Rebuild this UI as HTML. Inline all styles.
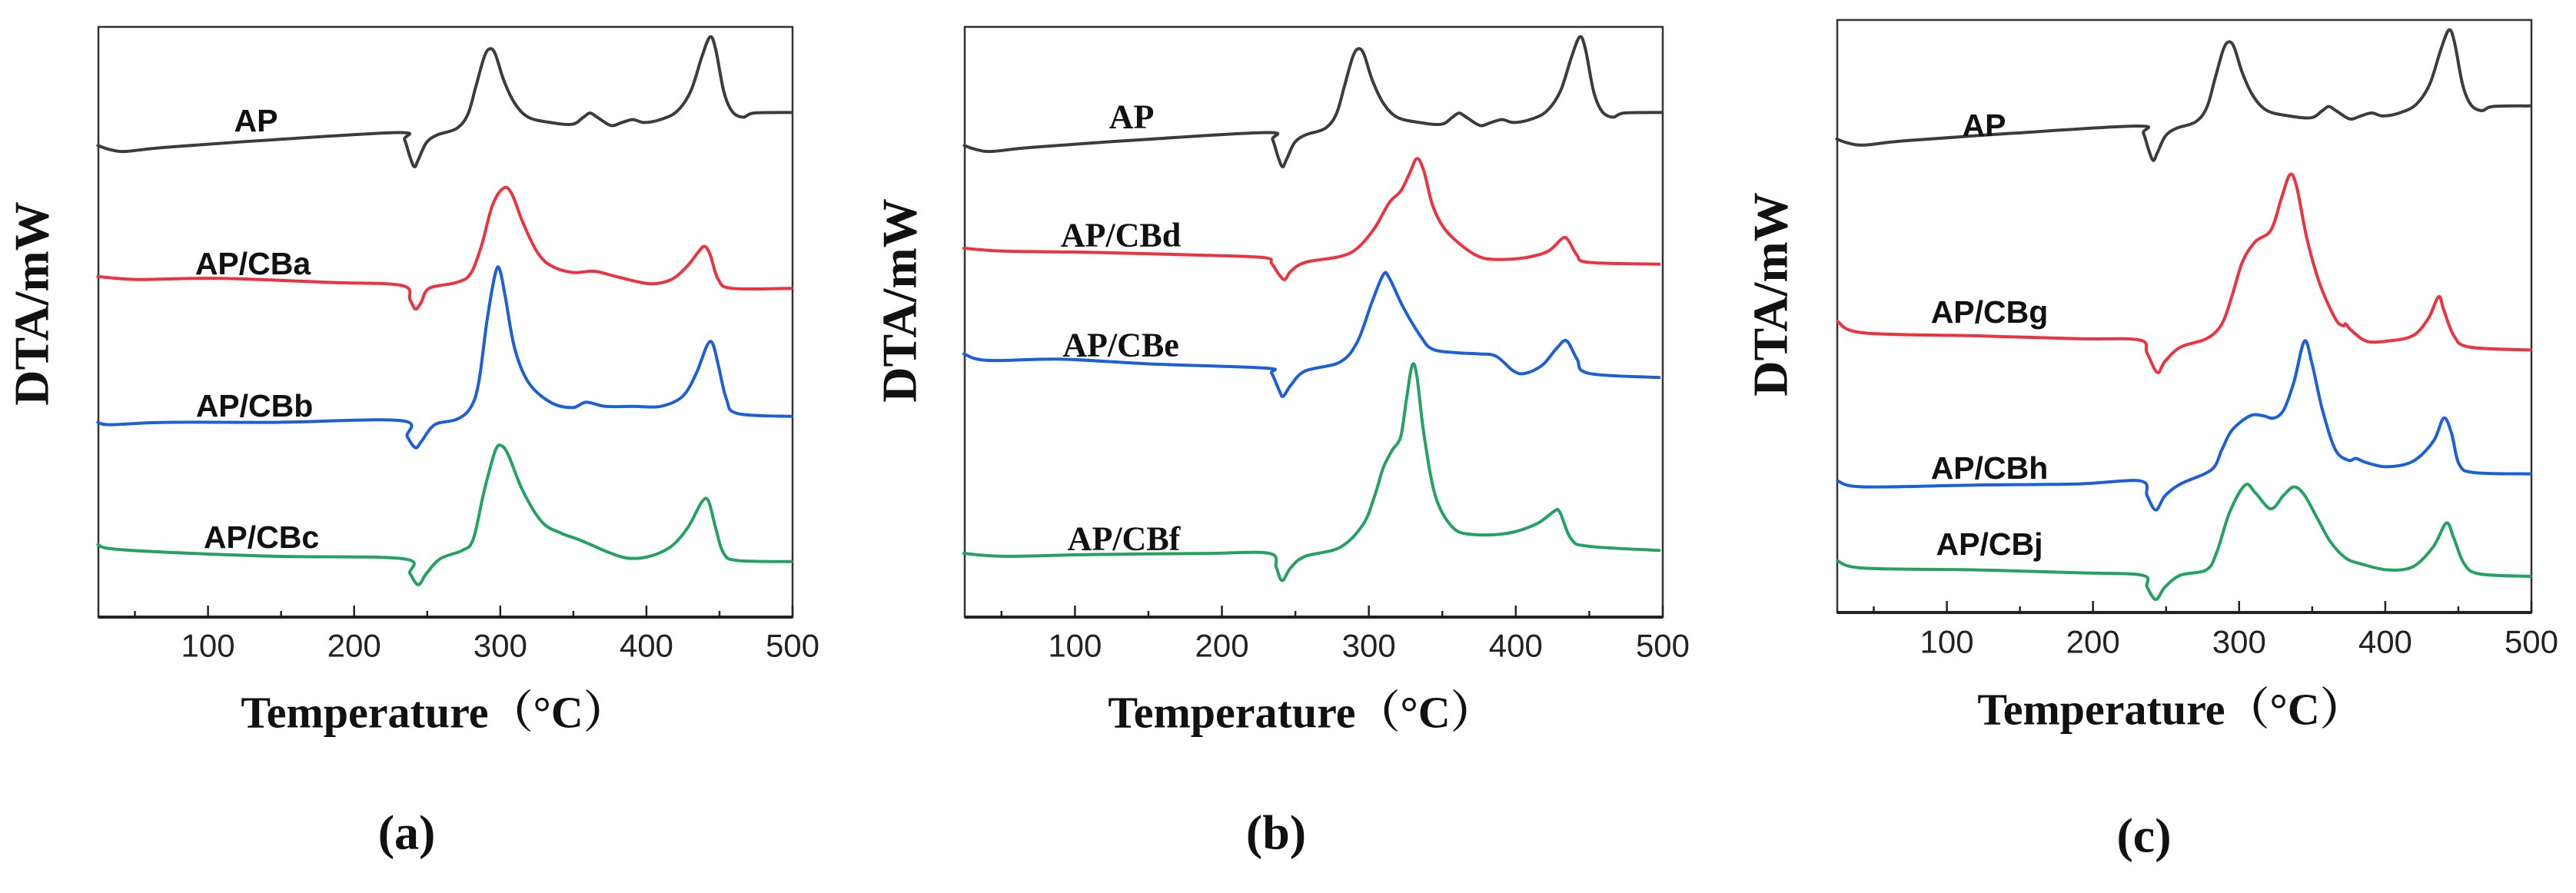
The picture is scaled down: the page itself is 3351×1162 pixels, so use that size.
<!DOCTYPE html>
<html><head><meta charset="utf-8"><style>
html,body{margin:0;padding:0;background:#fff;}
svg{display:block;}
.tick{font-family:"Liberation Sans",sans-serif;font-size:42px;fill:#222;}
.lblS{font-family:"Liberation Sans",sans-serif;font-weight:bold;font-size:41px;fill:#111;}
.lblT{font-family:"Liberation Serif",serif;font-weight:bold;font-size:44px;fill:#111;}
.ytitle{font-family:"Liberation Serif",serif;font-weight:bold;font-size:64px;fill:#111;}
.xtitle{font-family:"Liberation Serif","Noto Serif CJK SC",serif;font-weight:bold;font-size:58px;fill:#111;}
.plet{font-family:"Liberation Serif",serif;font-weight:bold;font-size:64px;fill:#111;}
</style></head><body>
<svg id="fig" width="3351" height="1162" viewBox="0 0 3351 1162" xmlns="http://www.w3.org/2000/svg"></svg>
<script>
// ---- shared tick data ----
const xMajorTicks = [100, 200, 300, 400, 500];
const xMinorTicks = [50, 150, 250, 350, 450];
const xTickLabels = ["100", "200", "300", "400", "500"];

// ---- AP (pure) curve, used in all panels ----
const apTemp = [24.7,33,44,70.6,146,230.7,234.5,238.2,241.2,243.9,249.5,257,270.2,277.8,283.4,289,292.8,296.6,302.3,309.8,319.2,334.3,349.3,356.9,361.4,366.3,375.7,383.2,390.8,398.3,409.6,420.9,430.3,437.9,443.5,447.3,452.9,458.6,466.1,473.6,499.2];
const apDTA = [79.9,79.2,78.9,79.6,80.9,82.1,80.9,78.0,76.3,77.5,80.4,81.7,82.8,85.2,90.0,94.9,96.3,95.4,91.0,87.1,84.7,83.8,83.5,84.7,85.4,84.7,83.3,83.8,84.3,83.8,84.3,85.7,89.1,94.9,98.3,96.3,89.1,85.7,84.7,85.4,85.5];

// ---- panel (a) ----
const cbaTemp = [24.7,51.8,108.3,183.6,232.6,238.2,242,245.8,251.4,270.2,279.7,287.2,294.7,302.3,307.9,315.4,324.9,334.3,349.3,364.4,379.5,402.1,417.1,428.4,436,439.8,443.5,449.2,458.6,499.2];
const cbaDTA = [57.7,57.2,57.4,56.7,56.2,53.8,52.2,53.3,55.7,56.7,58.2,63.0,69.8,72.7,71.7,66.9,62.0,59.6,58.4,58.6,57.7,56.5,57.2,59.6,62.0,62.8,61.5,57.2,55.7,55.7];
const cbbTemp = [24.7,33,70.6,146,231.8,236.3,242,245.8,255.2,270.2,279.7,285.3,291,296.6,299.6,303.4,309.8,319.2,334.3,349.3,358.8,371.9,390.8,409.6,424.7,434.1,441.6,445.4,449.2,454.8,462.3,499.2];
const cbbDTA = [33.0,32.6,33.0,33.0,33.3,30.6,28.7,29.7,32.6,33.5,35.5,39.8,50.4,58.2,58.9,54.3,45.6,39.8,36.4,35.5,36.4,35.7,35.7,35.7,37.4,41.3,46.1,46.3,42.7,36.9,34.5,34.0];
const cbcTemp = [24.7,33,70.6,146,233.3,238.2,243.9,249.5,259,274,281.5,289,296.6,301.1,306,315.4,328.6,341.8,353.1,364.4,373.8,387,402.1,417.1,428.4,437.9,442.4,447.3,452.9,462.3,499.2];
const cbcDTA = [12.3,11.6,11.0,10.3,9.9,7.4,5.5,7.4,9.9,11.3,13.2,21.4,28.2,29.0,27.2,21.4,16.1,14.2,13.2,12.0,11.0,10.0,10.3,12.0,15.2,19.5,19.7,15.2,10.8,9.6,9.4];

// ---- panel (b) ----
const cbdTemp = [24.4,52,111,189.8,229.1,233.9,239,242.9,246.9,256.7,280.3,292.1,303.9,313.8,321.7,327.6,332.7,337.4,343.3,351.2,363,374.8,386.6,406.3,422,431.9,435.8,441.7,449.6,497.6];
const cbdDTA = [62.5,62.0,61.8,61.3,60.9,59.9,58.0,57.2,58.6,60.1,61.1,62.5,65.9,70.2,72.2,75.1,77.7,75.6,69.8,65.9,63.0,61.1,60.6,60.9,62.0,64.2,63.8,61.3,60.1,59.8];
const cbeTemp = [24.4,40.2,91.3,150.4,229.1,233.9,239,241.7,246.9,256.7,280.3,292.1,302,309.8,313.8,323.6,335.4,343.3,359.1,374.8,386.6,398.4,406.3,418.1,428,434.6,441.7,449.6,497.6];
const cbeDTA = [44.6,43.5,43.7,42.9,42.2,41.3,38.4,37.4,39.3,41.7,43.2,46.6,53.3,58.0,57.5,52.4,47.5,45.4,44.8,44.6,44.2,41.7,41.3,42.7,45.6,46.8,43.7,41.3,40.6];
const cbfTemp = [24.4,52,111,189.8,232.3,237,241,246.9,256.7,280.3,296.1,303.9,309.8,315.7,321.7,325.6,329.5,332.7,337.4,345.3,357.1,370.9,394.5,414.2,426,429.9,437.8,449.6,497.6];
const cbfDTA = [10.8,10.3,10.6,10.8,10.8,8.4,6.2,8.4,10.3,11.8,15.7,20.5,25.3,28.2,30.6,36.9,42.7,40.8,31.1,20.5,15.2,14.0,14.2,15.8,17.9,17.8,13.2,12.0,11.3];

// ---- panel (c) ----
const cbgTemp = [25.2,42.8,118.7,189.3,231.7,237,244,249.3,259.9,277.6,288.2,295.2,302.3,311.1,321.7,328.8,334.8,339.4,346.4,355.3,365.8,371.1,372.9,376.4,387,401.1,418.8,429.4,436.5,440,447,457.6,499.3];
const cbgDTA = [49.1,47.2,46.7,46.2,46.0,43.8,40.5,42.4,44.8,46.2,48.7,53.5,59.2,62.6,64.5,69.8,73.9,71.8,63.1,55.4,49.6,48.4,48.7,47.7,45.8,45.8,46.7,49.6,53.3,51.1,46.7,44.8,44.3];
const cbhTemp = [25.2,42.8,118.7,189.3,232.4,237,243,249.3,259.9,281.1,288.2,295.2,307.6,316.4,323.5,330.5,337.6,344.7,350,357,365.8,374.7,380,387,401.1,418.8,432.9,440,445.3,450.6,461.2,499.3];
const cbhDTA = [22.2,21.2,21.5,21.7,22.2,19.7,17.3,19.7,21.7,24.1,27.5,30.8,33.2,33.2,32.8,34.2,39.0,45.8,41.9,34.2,27.5,25.7,26.0,25.3,24.6,25.5,28.9,32.8,30.3,25.0,23.6,23.4];
const cbjTemp = [25.2,42.8,118.7,189.3,233.5,237,243,249.3,259.9,277.6,284.6,293.5,304.1,311.1,321.7,330.5,337.6,344.7,353.5,362.3,372.9,383.5,401.1,418.8,432.9,441.8,447,454.1,464.7,499.3];
const cbjDTA = [8.7,7.5,7.2,6.7,6.3,4.3,2.2,4.3,6.3,7.2,10.1,16.9,21.5,20.2,17.5,19.8,21.2,19.8,15.9,12.0,9.2,8.2,7.2,7.7,11.1,15.1,12.5,8.2,6.5,6.1];

const NS = "http://www.w3.org/2000/svg";
const svg = document.getElementById("fig");
function mk(tag, attrs, parent){ const e=document.createElementNS(NS,tag); for(const k in attrs) e.setAttribute(k,attrs[k]); (parent||svg).appendChild(e); return e; }

const COLORS = {black:"#3c3c3c", red:"#ec3340", blue:"#1c5fd8", green:"#23a262"};

function smoothPath(pts){
  let d = "M"+pts[0][0].toFixed(1)+","+pts[0][1].toFixed(1);
  for(let i=0;i<pts.length-1;i++){
    const p0=pts[Math.max(0,i-1)], p1=pts[i], p2=pts[i+1], p3=pts[Math.min(pts.length-1,i+2)];
    const c1x=p1[0]+(p2[0]-p0[0])/6, c1y=p1[1]+(p2[1]-p0[1])/6;
    const c2x=p2[0]-(p3[0]-p1[0])/6, c2y=p2[1]-(p3[1]-p1[1])/6;
    d+=" C"+c1x.toFixed(1)+","+c1y.toFixed(1)+" "+c2x.toFixed(1)+","+c2y.toFixed(1)+" "+p2[0].toFixed(1)+","+p2[1].toFixed(1);
  }
  return d;
}

function drawPanel(p){
  const g = mk("g",{});
  
  
  const xScale = t => p.left + (t - 25) / 475 * (p.right - p.left);
  const yScale = v => p.bottom - v / 100 * (p.bottom - p.top);
  const fr = mk("rect",{x:p.left,y:p.top,width:p.right-p.left,height:p.bottom-p.top,fill:"none",stroke:"#333","stroke-width":2.5},g);
  
  
  const bl = mk("line",{x1:p.left,x2:p.right,y1:p.bottom,y2:p.bottom,stroke:"#222","stroke-width":4},g);
  
  
  xMajorTicks.forEach((t,i)=>{
    const x=xScale(t);
    const tk=mk("line",{x1:x,x2:x,y1:p.bottom,y2:p.bottom-15,stroke:"#222","stroke-width":2.5},g);
    
    
    const tl=mk("text",{x:x,y:p.tickY,"text-anchor":"middle","dominant-baseline":"central",class:"tick"},g);
    tl.textContent=xTickLabels[i];
    
    
  });
  xMinorTicks.forEach(t=>{
    const x=xScale(t);
    const tk=mk("line",{x1:x,x2:x,y1:p.bottom,y2:p.bottom-8,stroke:"#222","stroke-width":2.5},g);
    
    
  });
  p.series.forEach(s=>{
    const pts=s.t.map((t,i)=>[xScale(t), yScale(s.v[i])]);
    const path=mk("path",{d:smoothPath(pts),fill:"none",stroke:COLORS[s.c],"stroke-width":4,"stroke-linejoin":"round","stroke-linecap":"round"},g);
    
    
    const lb=mk("text",{x:s.lx,y:s.ly,"text-anchor":"middle","dominant-baseline":"central",class:p.lblClass},g);
    lb.textContent=s.name;
    
    
  });
  const yt=mk("text",{x:p.yTitleX,y:p.yTitleY,"text-anchor":"middle","dominant-baseline":"central",class:"ytitle",transform:"rotate(-90 "+p.yTitleX+" "+p.yTitleY+")"},g);
  yt.textContent="DTA/mW";
  
  
  const xt=mk("text",{x:p.xTitleX,y:p.xTitleY,"text-anchor":"middle","dominant-baseline":"central",class:"xtitle"},g);
  xt.textContent="Temperature（°C）";
  
  
  const pl=mk("text",{x:p.letX,y:p.letY,"text-anchor":"middle","dominant-baseline":"central",class:"plet"},g);
  pl.textContent="("+p.id+")";
  
  
}

drawPanel({id:"a",left:128,right:1031,top:35,bottom:803,tickY:840,lblClass:"lblS",
  yTitleX:41,yTitleY:395,xTitleX:565,xTitleY:927,letX:529,letY:1083,
  series:[
    {name:"AP",t:apTemp,v:apDTA,c:"black",lx:333,ly:157},
    {name:"AP/CBa",t:cbaTemp,v:cbaDTA,c:"red",lx:329,ly:343},
    {name:"AP/CBb",t:cbbTemp,v:cbbDTA,c:"blue",lx:331,ly:528},
    {name:"AP/CBc",t:cbcTemp,v:cbcDTA,c:"green",lx:340,ly:699}]});
drawPanel({id:"b",left:1255,right:2163,top:35,bottom:803,tickY:840,lblClass:"lblT",
  yTitleX:1170,yTitleY:391,xTitleX:1693,xTitleY:927,letX:1660,letY:1083,
  series:[
    {name:"AP",t:apTemp,v:apDTA,c:"black",lx:1472,ly:152},
    {name:"AP/CBd",t:cbdTemp,v:cbdDTA,c:"red",lx:1458,ly:306},
    {name:"AP/CBe",t:cbeTemp,v:cbeDTA,c:"blue",lx:1458,ly:449},
    {name:"AP/CBf",t:cbfTemp,v:cbfDTA,c:"green",lx:1462,ly:701}]});
drawPanel({id:"c",left:2390,right:3293,top:26,bottom:797,tickY:835,lblClass:"lblS",
  yTitleX:2303,yTitleY:383,xTitleX:2824,xTitleY:923,letX:2789,letY:1087,
  series:[
    {name:"AP",t:apTemp,v:apDTA,c:"black",lx:2581,ly:163},
    {name:"AP/CBg",t:cbgTemp,v:cbgDTA,c:"red",lx:2588,ly:406},
    {name:"AP/CBh",t:cbhTemp,v:cbhDTA,c:"blue",lx:2588,ly:609},
    {name:"AP/CBj",t:cbjTemp,v:cbjDTA,c:"green",lx:2588,ly:708}]});
</script>
</body></html>
